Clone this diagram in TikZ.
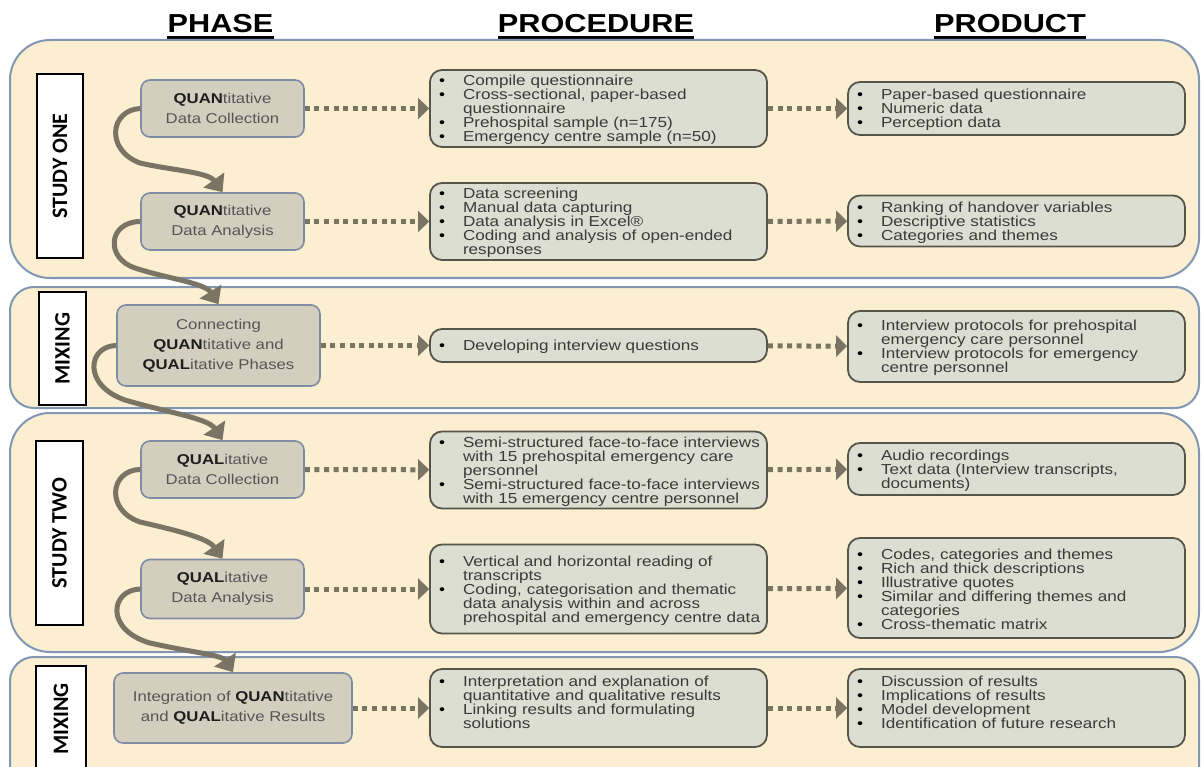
\documentclass[tikz,border=0pt]{standalone}
\usepackage{fontspec}
\setmainfont{Liberation Sans}[FakeStretch=1.18]
\newfontfamily\lblfont{Carlito}
\usetikzlibrary{arrows.meta}
\definecolor{panelfill}{HTML}{FCEFD1}
\definecolor{panelborder}{HTML}{8096B2}
\definecolor{phasefill}{HTML}{D4CEBF}
\definecolor{phaseborder}{HTML}{7D8CA3}
\definecolor{procfill}{HTML}{DDDED2}
\definecolor{procborder}{HTML}{55554C}
\definecolor{arrowc}{HTML}{7A7464}
\definecolor{textc}{HTML}{3A3A3A}
\definecolor{phasetxt}{HTML}{555555}
\definecolor{qdark}{HTML}{1E1E1E}
\newcommand{\bl}[1]{\par\noindent\hangindent=27pt\hangafter=1\makebox[27pt][l]{\hspace{3pt}\textcolor{black}{\textbullet}}\mbox{#1}}
\newcommand{\cl}[1]{\newline\mbox{#1}}
\newcommand{\Q}[1]{\textcolor{qdark}{\textbf{#1}}}
\tikzset{
  panel/.style={draw=panelborder, fill=panelfill, line width=2pt},
  sidelabel/.style={draw=black, fill=white, line width=1.3pt, rotate=90, inner sep=0pt,
    font={\lblfont\bfseries\fontsize{22}{22}\selectfont}},
  hdr/.style={inner sep=0pt, font={\bfseries\fontsize{26}{26}\selectfont}, text=black},
  phasebox/.style={draw=phaseborder, fill=phasefill, line width=1.6pt, rounded corners=9pt,
    align=center, inner sep=2pt, text=phasetxt, font={\fontsize{14.2}{20}\selectfont}},
  listbox/.style={draw=procborder, fill=procfill, line width=1.8pt, rounded corners=12pt,
    text width=325pt, inner xsep=6pt, inner ysep=2pt, align=left, text=textc,
    font={\fontsize{14.5}{14}\selectfont}},
  dotarrow/.style={draw=arrowc, line width=5pt, dash pattern=on 5pt off 4.6pt,
    -{Triangle[length=11pt,width=21pt]}},
  curvearrow/.style={draw=arrowc, line width=5pt, -{Triangle[length=15pt,width=25pt]}}
}
\begin{document}
\begin{tikzpicture}[x=1pt,y=-1pt]
\useasboundingbox (0,0) rectangle (1204,767);
\clip (0,0) rectangle (1204,767);
\fill[white] (0,0) rectangle (1204,767);

% headers
\node[hdr] (h1) at (220.5,24) {PHASE};
\node[hdr] (h2) at (596,24) {PROCEDURE};
\node[hdr] (h3) at (1010,24) {PRODUCT};
\foreach \h in {h1,h2,h3}
  \draw[line width=3pt] ([yshift=-4.5pt]\h.south west) -- ([yshift=-4.5pt]\h.south east);

% panels
\draw[panel, rounded corners=40pt] (10,40) rectangle (1199,278);
\draw[panel, rounded corners=24pt] (10,287) rectangle (1199,408);
\draw[panel, rounded corners=40pt] (10,413) rectangle (1199,652);
\draw[panel, rounded corners=24pt] (10,657) rectangle (1199,800);

% side labels
\node[sidelabel, minimum width=184pt, minimum height=46pt] (l1) at (60,166) {STUDY ONE};
\node[sidelabel, minimum width=113pt, minimum height=47pt] (l2) at (62.5,348.5) {MIXING};
\node[sidelabel, minimum width=184pt, minimum height=47pt] (l3) at (59.5,533) {STUDY TWO};
\node[sidelabel, minimum width=106pt, minimum height=50pt] (l4) at (61,719) {MIXING};

% phase boxes
\node[phasebox, minimum width=163pt, minimum height=57pt] (q1) at (222.5,108.5)
  {\Q{QUAN}titative\\Data Collection};
\node[phasebox, minimum width=163pt, minimum height=57pt] (q2) at (222.5,221.5)
  {\Q{QUAN}titative\\Data Analysis};
\node[phasebox, minimum width=203pt, minimum height=81pt] (q3) at (218.5,345.5)
  {Connecting\\\Q{QUAN}titative and\\\Q{QUAL}itative Phases};
\node[phasebox, minimum width=163pt, minimum height=57pt] (q4) at (222.5,469.5)
  {\Q{QUAL}itative\\Data Collection};
\node[phasebox, minimum width=163pt, minimum height=59pt] (q5) at (222.5,589)
  {\Q{QUAL}itative\\Data Analysis};
\node[phasebox, minimum width=238pt, minimum height=70pt] (q6) at (233,708)
  {Integration of \Q{QUAN}titative\\and \Q{QUAL}itative Results};

% procedure boxes
\node[listbox, minimum height=77pt] (p1) at (598.5,108.5) {%
  \bl{Compile questionnaire}%
  \bl{Cross-sectional, paper-based}\cl{questionnaire}%
  \bl{Prehospital sample (n=175)}%
  \bl{Emergency centre sample (n=50)}\par};
\node[listbox, minimum height=77pt] (p2) at (598.5,221.5) {%
  \bl{Data screening}%
  \bl{Manual data capturing}%
  \bl{Data analysis in Excel®}%
  \bl{Coding and analysis of open-ended}\cl{responses}\par};
\node[listbox, minimum height=33pt] (p3) at (598.5,345.5) {%
  \bl{Developing interview questions}\par};
\node[listbox, minimum height=76pt] (p4) at (598.5,470) {%
  \bl{Semi-structured face-to-face interviews}\cl{with 15 prehospital emergency care}\cl{personnel}%
  \bl{Semi-structured face-to-face interviews}\cl{with 15 emergency centre personnel}\par};
\node[listbox, minimum height=89pt] (p5) at (598.5,589) {%
  \bl{Vertical and horizontal reading of}\cl{transcripts}%
  \bl{Coding, categorisation and thematic}\cl{data analysis within and across}\cl{prehospital and emergency centre data}\par};
\node[listbox, minimum height=78pt] (p6) at (598.5,708) {%
  \bl{Interpretation and explanation of}\cl{quantitative and qualitative results}%
  \bl{Linking results and formulating}\cl{solutions}\par\vspace*{14pt}};

% product boxes
\node[listbox, minimum height=53pt] (r1) at (1016.5,108.5) {%
  \bl{Paper-based questionnaire}%
  \bl{Numeric data}%
  \bl{Perception data}\par};
\node[listbox, minimum height=51pt] (r2) at (1016.5,221) {%
  \bl{Ranking of handover variables}%
  \bl{Descriptive statistics}%
  \bl{Categories and themes}\par};
\node[listbox, minimum height=71pt] (r3) at (1016.5,346.5) {%
  \bl{Interview protocols for prehospital}\cl{emergency care personnel}%
  \bl{Interview protocols for emergency}\cl{centre personnel}\par};
\node[listbox, minimum height=52pt] (r4) at (1016.5,469) {%
  \bl{Audio recordings}%
  \bl{Text data (Interview transcripts,}\cl{documents)}\par};
\node[listbox, minimum height=100pt] (r5) at (1016.5,588) {%
  \bl{Codes, categories and themes}%
  \bl{Rich and thick descriptions}%
  \bl{Illustrative quotes}%
  \bl{Similar and differing themes and}\cl{categories}%
  \bl{Cross-thematic matrix}\par};
\node[listbox, minimum height=78pt] (r6) at (1016.5,708) {%
  \bl{Discussion of results}%
  \bl{Implications of results}%
  \bl{Model development}%
  \bl{Identification of future research}\par\vspace*{14pt}};

% dotted arrows
\foreach \a/\b in {q1/p1,q2/p2,q3/p3,q4/p4,q5/p5,q6/p6,p1/r1,p2/r2,p3/r3,p4/r4,p5/r5,p6/r6}
  \draw[dotarrow] (\a) -- (\b);

% curved arrows
\draw[curvearrow] (q1.west) .. controls (110,110) and (105,150) .. (140,163)
  .. controls (170,170) and (208,172) .. (q2.north);
\draw[curvearrow] (q2.west) .. controls (108,222) and (105,258) .. (135,268)
  .. controls (165,278) and (205,283) .. (q3.north);
\draw[curvearrow] (q3.west) .. controls (88,346) and (82,385) .. (125,400)
  .. controls (165,412) and (208,418) .. (q4.north);
\draw[curvearrow] (q4.west) .. controls (110,470) and (105,510) .. (140,522)
  .. controls (175,530) and (208,538) .. (q5.north);
\draw[curvearrow] (q5.west) .. controls (110,590) and (105,630) .. (150,643)
  .. controls (190,652) and (222,655) .. (q6.north);
\end{tikzpicture}
\end{document}
